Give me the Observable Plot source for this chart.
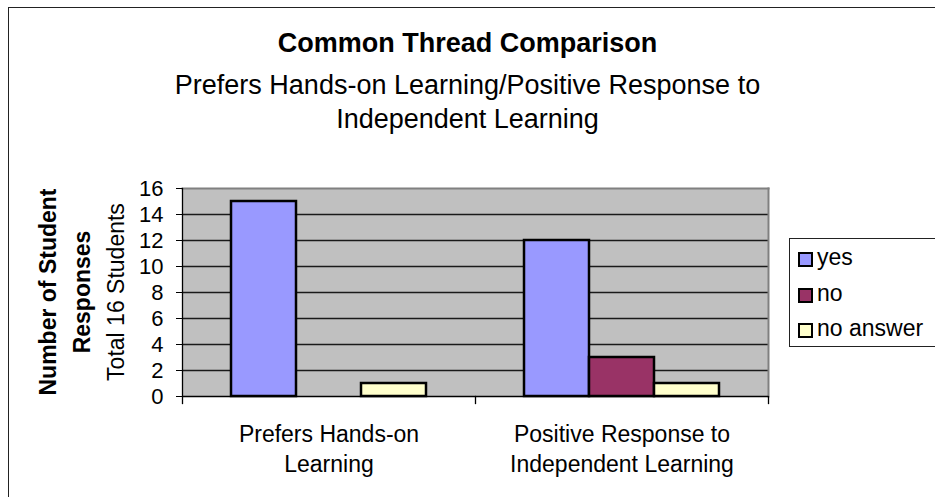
<!DOCTYPE html>
<html>
<head>
<meta charset="utf-8">
<script src="https://cdn.jsdelivr.net/npm/d3@7"></script>
<script src="https://cdn.jsdelivr.net/npm/@observablehq/plot@0.6"></script>
<style>
  html, body { margin: 0; padding: 0; background: #fff; }
  #wrap { position: relative; width: 935px; height: 497px; overflow: hidden; font-family: "Liberation Sans", Arial, sans-serif; color: #000; }
  #outer { position: absolute; left: 8px; top: 7px; width: 1000px; height: 600px; border-left: 1px solid #222; border-top: 1px solid #222; }
  #chart { position: absolute; left: 0; top: 0; }
  .title { position: absolute; left: 0; width: 935px; text-align: center; white-space: nowrap; }
  #ylab { position: absolute; left: 82px; top: 292px; transform: translate(-50%, -50%) rotate(-90deg); text-align: center; white-space: nowrap; font-size: 23px; line-height: 34px; }
  #legend { position: absolute; left: 789px; top: 238px; width: 170px; height: 107px; border: 1px solid #222; }
  .sw { position: absolute; width: 11px; height: 11px; border: 2px solid #000; }
  .lt { position: absolute; font-size: 23px; line-height: 26px; white-space: nowrap; }
</style>
</head>
<body>
<div id="wrap">
  <div id="outer"></div>
  <div id="chart"></div>
  <div class="title" id="t1" style="top:26px;font-size:27px;line-height:34px;font-weight:bold;"></div>
  <div class="title" id="t2" style="top:68px;font-size:27px;line-height:34px;"></div>
  <div id="ylab"></div>
  <div id="legend"></div>
</div>
<script>
// ---- data ----
const titleText = "Common Thread Comparison";
const subtitleLines = ["Prefers Hands-on Learning/Positive Response to", "Independent Learning"];
const yTitleBold = ["Number of Student", "Responses"];
const yTitleSub = "Total 16 Students";
const categories = ["Prefers Hands-on Learning", "Positive Response to Independent Learning"];
const categoryLabels = ["Prefers Hands-on\nLearning", "Positive Response to\nIndependent Learning"];
const series = ["yes", "no", "no answer"];
const seriesColors = ["#9999ff", "#993366", "#ffffcc"];
const yesValues = [15, 12];
const noValues = [0, 3];
const noAnswerValues = [1, 1];
const yTicks = [0, 2, 4, 6, 8, 10, 12, 14, 16];

// ---- table ----
const valuesBySeries = [yesValues, noValues, noAnswerValues];
const data = [];
categories.forEach((c, i) => {
  series.forEach((s, j) => data.push({category: c, series: s, value: valuesBySeries[j][i]}));
});

// ---- text ----
document.getElementById("t1").textContent = titleText;
document.getElementById("t2").innerHTML = subtitleLines.join("<br>");
document.getElementById("ylab").innerHTML =
  "<b>" + yTitleBold.join("<br>") + "</b><br>" + yTitleSub;

// ---- legend ----
const legend = document.getElementById("legend");
series.forEach((s, i) => {
  const sw = document.createElement("div");
  sw.className = "sw";
  sw.style.left = "8px";
  sw.style.top = (13 + i * 35.5) + "px";
  sw.style.background = seriesColors[i];
  legend.appendChild(sw);
  const t = document.createElement("div");
  t.className = "lt";
  t.style.left = "27px";
  t.style.top = (5 + i * 35.5) + "px";
  t.textContent = s;
  legend.appendChild(t);
});

// ---- chart ----
const plotH = 396 - 188;
const chart = Plot.plot({
  width: 935,
  height: 497,
  marginLeft: 182,
  marginRight: 167,
  marginTop: 188,
  marginBottom: 101,
  style: {fontFamily: "'Liberation Sans', Arial, sans-serif", background: "transparent", color: "#000"},
  fx: {domain: categories, padding: 0, label: null},
  x: {domain: series, paddingInner: 0, paddingOuter: 0.74, axis: null},
  y: {domain: [0, 16], label: null},
  color: {domain: series, range: seriesColors},
  marks: [
    Plot.frame({fill: "#c0c0c0", stroke: "none", facet: "super"}),
    Plot.ruleY(yTicks.filter(t => t > 0 && t < 16), {stroke: "#1a1a1a", strokeWidth: 1.3}),
    Plot.frame({anchor: "top", stroke: "#808080", strokeWidth: 2, facet: "super"}),
    Plot.frame({anchor: "right", stroke: "#808080", strokeWidth: 2, facet: "super"}),
    Plot.frame({anchor: "left", stroke: "#000", strokeWidth: 1.3, facet: "super"}),
    Plot.barY(data, {
      filter: d => d.value > 0,
      fx: "category", x: "series", y: "value", fill: "series",
      stroke: "#000", strokeWidth: 2.5
    }),
    Plot.ruleY([0], {stroke: "#000", strokeWidth: 1.3}),
    Plot.frame({anchor: "left", insetTop: plotH, insetBottom: -7, stroke: "#000", strokeWidth: 1.3}),
    Plot.frame({anchor: "right", insetTop: plotH, insetBottom: -7, stroke: "#000", strokeWidth: 1.3, facet: "super"}),
    Plot.axisY(yTicks, {tickSize: 6, tickPadding: 13, fontSize: 22, label: null, stroke: "#000"}),
    Plot.axisFx({
      anchor: "bottom",
      tickSize: 0, tickPadding: 25, fontSize: 23, lineHeight: 1.28, label: null,
      tickFormat: d => categoryLabels[categories.indexOf(d)]
    })
  ]
});
document.getElementById("chart").appendChild(chart);
</script>
</body>
</html>
